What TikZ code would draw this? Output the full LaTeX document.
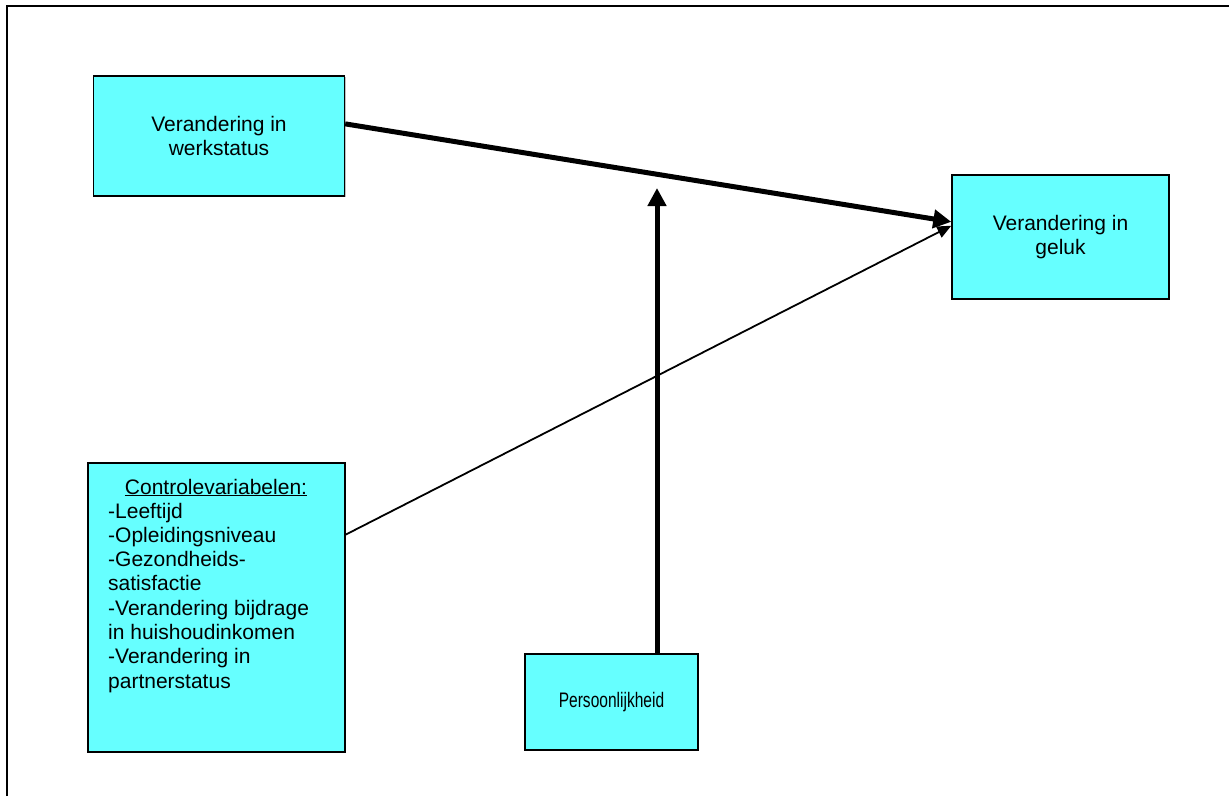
\documentclass[tikz,border=0pt]{standalone}
\usepackage{fontspec}
\usepackage{graphicx}
\setmainfont{Liberation Sans}
\usetikzlibrary{arrows.meta,calc,shadows}
\definecolor{boxcyan}{RGB}{102,255,255}
\begin{document}
\begin{tikzpicture}[x=1pt,y=1pt,
  varbox/.style={draw=black, line width=1.4pt, fill=boxcyan, inner sep=0pt,
    align=center, font=\fontsize{21}{24.3}\selectfont,
    drop shadow={shadow xshift=1.2pt, shadow yshift=-1.2pt, fill=black!25, opacity=1}},
  txt/.style={inner sep=0pt, font=\fontsize{21}{24.3}\selectfont},
  thickarrow/.style={line width=5pt, -{Triangle[length=18pt,width=18pt]}},
  thinarrow/.style={line width=1.8pt, -{Triangle[length=14pt,width=12pt]}},
  frameline/.style={line width=2pt}]
\useasboundingbox (0,0) rectangle (1229,-796);
% frame
\draw[frameline] (7,-796) -- (7,-5.5) -- (1229,-5.5);
% boxes
\node[varbox, minimum width=251pt, minimum height=120pt] (werk) at (219,-136)
  {Verandering in\\werkstatus};
\node[varbox, minimum width=217pt, minimum height=124pt] (geluk) at (1060.5,-237)
  {Verandering in\\geluk};
\node[varbox, minimum width=257pt, minimum height=289pt] (ctrl) at (216.5,-607.5) {};
\node[txt, anchor=base] (ctrltitle) at (216,-494) {\underline{Controlevariabelen:}};
\node[txt, anchor=base west] (ctrllist) at (108,-518)
  {\parbox[t]{230pt}{\raggedright\fontsize{21}{24.3}\selectfont
   -Leeftijd\\
   -Opleidingsniveau\\
   -Gezondheids-\\
   satisfactie\\
   -Verandering bijdrage\\
   in huishoudinkomen\\
   -Verandering in\\
   partnerstatus}};
\node[varbox, minimum width=173pt, minimum height=96pt] (pers) at (611.5,-702)
  {\scalebox{0.74}[1]{Persoonlijkheid}};
% moderation target
\coordinate (mod) at (657,-188);
% connectors
\draw[thickarrow] ($(werk.north east)!0.4!(werk.south east)$)
  -- ($(geluk.north west)!0.379!(geluk.south west)$);
\draw[thinarrow] ($(ctrl.north east)!0.249!(ctrl.south east)$)
  -- ($(geluk.north west)!0.41!(geluk.south west)$);
\draw[thickarrow] ($(pers.north)+(45.5,0)$) -- (mod);
\end{tikzpicture}
\end{document}
